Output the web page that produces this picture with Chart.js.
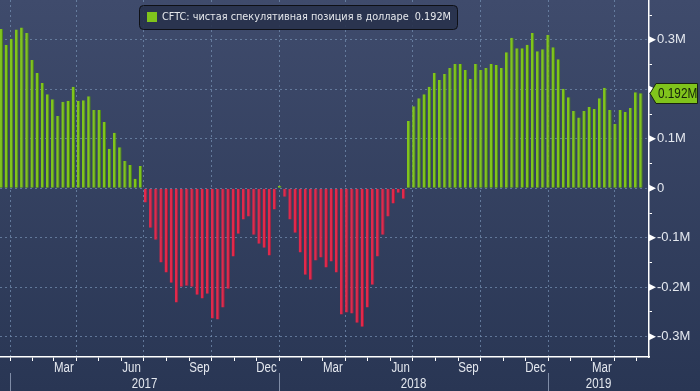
<!DOCTYPE html>
<html>
<head>
<meta charset="utf-8">
<script src="https://cdn.jsdelivr.net/npm/chart.js@4.4.1/dist/chart.umd.min.js"></script>
<style>
  html, body { margin: 0; padding: 0; background: #2c3957; }
  #wrap { width: 700px; height: 391px; background: linear-gradient(#3f4b6c, #293654); }
  canvas { display: block; }
</style>
</head>
<body>
<div id="wrap"><canvas id="cftc" width="700" height="391"></canvas></div>
<script>
// weekly CFTC reports (Tuesdays), net speculative USD position, millions of contracts
const firstReport = '2016-12-20';
const netPosition = [
  0.322, 0.290, 0.302, 0.321, 0.325, 0.314, 0.259, 0.233, 0.213, 0.190,
  0.180, 0.146, 0.175, 0.177, 0.205, 0.177, 0.178, 0.186, 0.158, 0.158,
  0.134, 0.080, 0.112, 0.083, 0.055, 0.047, 0.019, 0.045,
  -0.029, -0.080, -0.104, -0.150, -0.170, -0.191, -0.231, -0.199, -0.197, -0.199,
  -0.215, -0.223, -0.213, -0.263, -0.265, -0.241, -0.203, -0.138, -0.092,
  -0.063, -0.057, -0.094, -0.112, -0.120, -0.136, -0.043, 0.005, -0.017, -0.063,
  -0.090, -0.130, -0.175, -0.185, -0.146, -0.140, -0.160, -0.148, -0.170, -0.255,
  -0.251, -0.253, -0.272, -0.280, -0.241, -0.195, -0.138, -0.094, -0.057, -0.031,
  -0.009, -0.021,
  0.136, 0.166, 0.182, 0.190, 0.205, 0.233, 0.219, 0.231, 0.243, 0.251,
  0.251, 0.239, 0.221, 0.251, 0.239, 0.243, 0.251, 0.249, 0.243, 0.275,
  0.304, 0.283, 0.283, 0.290, 0.314, 0.277, 0.281, 0.310, 0.285, 0.261,
  0.201, 0.184, 0.156, 0.143, 0.156, 0.164, 0.160, 0.182, 0.203, 0.158,
  0.130, 0.158, 0.154, 0.162, 0.194, 0.192
];
const seriesName = 'CFTC: чистая спекулятивная позиция в долларе';
const monthNames = ['Jan', 'Feb', 'Mar', 'Apr', 'May', 'Jun', 'Jul', 'Aug', 'Sep', 'Oct', 'Nov', 'Dec'];
const labelledMonths = ['Mar', 'Jun', 'Sep', 'Dec'];
const years = [2017, 2018, 2019];
const yTicks = [-0.3, -0.25, -0.2, -0.15, -0.1, -0.05, 0, 0.05, 0.1, 0.15, 0.2, 0.25, 0.3, 0.35];
const yMajor = [-0.3, -0.2, -0.1, 0, 0.1, 0.2, 0.3];
const yHiddenLabels = [0.2];

const xMin = -13.6, xMax = 867;
const yMin = -0.341, yMax = 0.3805;

const fontSans = '"Liberation Sans", Arial, sans-serif';
const gridColor = 'rgba(115,140,175,0.75)';
const textColor = '#e4e8ef';
const green = '#80c41c', greenEdge = '#4f8d12';
const red = '#e1294b', redEdge = '#a51d3a';

const epoch = Date.UTC(2017, 0, 1);
function dayOf(y, m, d) { return (Date.UTC(y, m, d) - epoch) / 864e5; }
const startDay = (Date.parse(firstReport) - epoch) / 864e5;

const points = netPosition.map((v, i) => ({ x: startDay + 7 * i, y: v }));

const monthStarts = [];
for (let y = 2016; y <= 2019; y++) {
  for (let m = 0; m < 12; m++) {
    const d = dayOf(y, m, 1);
    if (d >= xMin && d <= xMax) monthStarts.push({ value: d, quarter: m % 3 === 0 });
  }
}

function isMajor(v) { return yMajor.some(m => Math.abs(m - v) < 1e-9); }
function yLabel(v) {
  if (!isMajor(v) || yHiddenLabels.some(h => Math.abs(h - v) < 1e-9)) return '';
  if (Math.abs(v) < 1e-9) return '0';
  return (Math.round(v * 10) / 10) + 'M';
}

// bloomberg-ish narrow text: squeeze horizontally
function narrowText(ctx, text, x, y, align, sx) {
  const w = ctx.measureText(text).width * sx;
  let left = x;
  if (align === 'center') left = x - w / 2;
  ctx.save();
  ctx.textAlign = 'left';
  ctx.translate(left, y);
  ctx.scale(sx, 1);
  ctx.fillText(text, 0, 0);
  ctx.restore();
}

const bbgDecor = {
  id: 'bbgDecor',
  afterDraw(chart) {
    const { ctx, chartArea, scales: { x, y } } = chart;
    ctx.save();

    // month labels
    ctx.fillStyle = textColor;
    ctx.font = '14px ' + fontSans;
    ctx.textBaseline = 'middle';
    years.forEach(yr => {
      labelledMonths.forEach(name => {
        const d = dayOf(yr, monthNames.indexOf(name), 15);
        if (d > xMin && d < xMax) narrowText(ctx, name, x.getPixelForValue(d), chartArea.bottom + 11, 'center', 0.82);
      });
    });

    // year labels and separators
    years.forEach(yr => {
      const a = Math.max(dayOf(yr, 0, 1), xMin), b = Math.min(dayOf(yr + 1, 0, 1), xMax);
      ctx.fillStyle = textColor;
      narrowText(ctx, String(yr), x.getPixelForValue((a + b) / 2), chartArea.bottom + 27, 'center', 0.82);
      const sx = Math.round(x.getPixelForValue(dayOf(yr, 0, 1))) + 0.5;
      ctx.strokeStyle = '#7f8ca6';
      ctx.lineWidth = 1;
      ctx.beginPath();
      ctx.moveTo(sx, chartArea.bottom + 16);
      ctx.lineTo(sx, 391);
      ctx.stroke();
    });

    // arrow markers on the value axis
    ctx.fillStyle = '#ffffff';
    yMajor.forEach(v => {
      const py = y.getPixelForValue(v);
      ctx.beginPath();
      ctx.moveTo(chartArea.right, py - 3.5);
      ctx.lineTo(chartArea.right + 7, py);
      ctx.lineTo(chartArea.right, py + 3.5);
      ctx.closePath();
      ctx.fill();
    });

    // last value callout
    const last = netPosition[netPosition.length - 1];
    const py = Math.round(y.getPixelForValue(last)) + 0.5;
    const lx = chartArea.right + 1;
    ctx.beginPath();
    ctx.moveTo(lx, py);
    ctx.lineTo(lx + 6, py - 10);
    ctx.lineTo(697.5, py - 10);
    ctx.lineTo(697.5, py + 10);
    ctx.lineTo(lx + 6, py + 10);
    ctx.closePath();
    ctx.fillStyle = green;
    ctx.fill();
    ctx.strokeStyle = '#18240e';
    ctx.lineWidth = 1;
    ctx.stroke();
    ctx.fillStyle = '#15220b';
    ctx.font = '14px ' + fontSans;
    narrowText(ctx, last.toFixed(3) + 'M', lx + 8, py + 1, 'left', 0.84);

    // legend box
    ctx.beginPath();
    ctx.roundRect(139.5, 5.5, 318, 24, 4);
    ctx.fillStyle = 'rgba(40,50,76,0.9)';
    ctx.fill();
    ctx.strokeStyle = '#0e1016';
    ctx.stroke();
    ctx.fillStyle = green;
    ctx.fillRect(147, 12, 10, 10);
    ctx.fillStyle = '#e6e8ec';
    ctx.font = '11px "DejaVu Sans", sans-serif';
    const legendText = seriesName + '  ' + last.toFixed(3) + 'M';
    const fit = Math.min(1, 289 / ctx.measureText(legendText).width);
    narrowText(ctx, legendText, 162, 17.5, 'left', fit);

    ctx.restore();
  }
};

new Chart(document.getElementById('cftc'), {
  type: 'bar',
  data: {
    datasets: [{
      label: seriesName,
      data: points,
      backgroundColor: c => (c.raw && c.raw.y < 0 ? red : green),
      borderColor: c => (c.raw && c.raw.y < 0 ? redEdge : greenEdge),
      borderWidth: { top: 0, right: 1, bottom: 0, left: 0 },
      borderSkipped: false,
      barPercentage: 0.68,
      categoryPercentage: 1
    }]
  },
  options: {
    responsive: false,
    animation: false,
    layout: { padding: 0 },
    plugins: { legend: { display: false }, tooltip: { enabled: false } },
    scales: {
      x: {
        type: 'linear',
        min: xMin,
        max: xMax,
        offset: false,
        afterBuildTicks: s => { s.ticks = monthStarts.map(m => ({ value: m.value })); },
        afterFit: s => { s.height = 34; s.paddingLeft = 0; s.paddingRight = 0; },
        grid: {
          offset: false,
          color: c => (monthStarts[c.index] && monthStarts[c.index].quarter ? gridColor : 'rgba(0,0,0,0)'),
          tickColor: '#ffffff',
          tickLength: 4,
          lineWidth: 1
        },
        border: { color: '#ffffff', width: 1.5, dash: [2, 3] },
        ticks: { display: false }
      },
      y: {
        position: 'right',
        min: yMin,
        max: yMax,
        afterBuildTicks: s => { s.ticks = yTicks.map(v => ({ value: v })); },
        afterFit: s => { s.width = 51; s.paddingTop = 0; s.paddingBottom = 0; },
        grid: {
          color: c => (c.tick && isMajor(c.tick.value) ? gridColor : 'rgba(0,0,0,0)'),
          tickColor: '#ffffff',
          tickLength: 3,
          lineWidth: 1
        },
        border: { color: '#ffffff', width: 1.5, dash: [2, 3] },
        ticks: {
          color: textColor,
          padding: 5,
          autoSkip: false,
          font: { family: fontSans, size: 13 },
          callback: v => yLabel(v)
        }
      }
    }
  },
  plugins: [bbgDecor]
});
</script>
</body>
</html>
